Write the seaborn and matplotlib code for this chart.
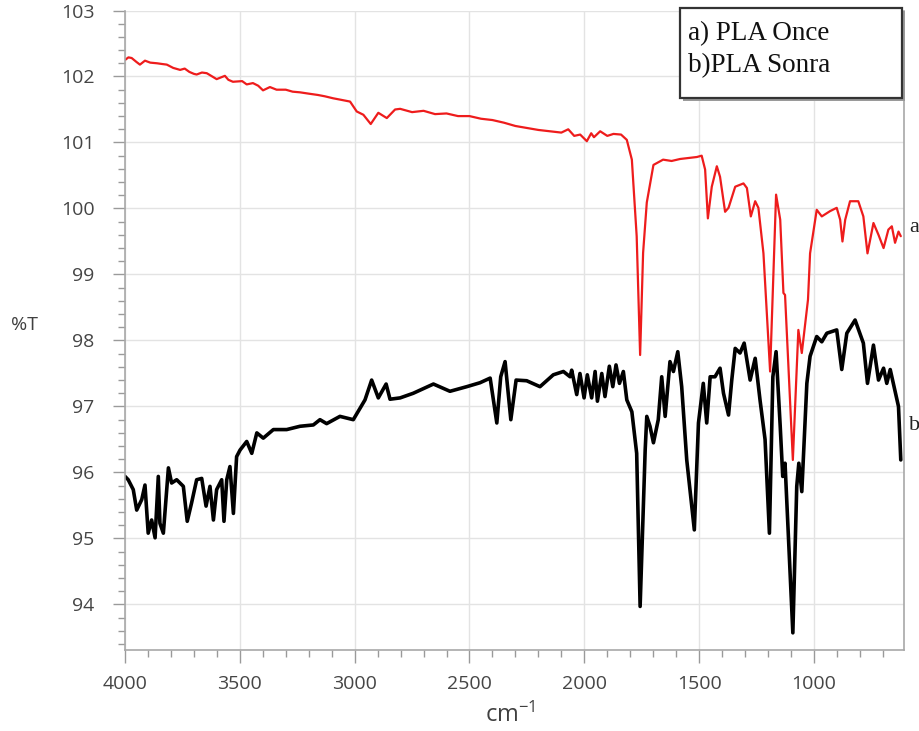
import matplotlib
matplotlib.use("Agg")
import matplotlib.pyplot as plt
from matplotlib.patches import Rectangle
from matplotlib.ticker import MultipleLocator
import pandas as pd
import seaborn as sns

# spectrum a) PLA Once (red)
wn_a = [4000, 3985, 3971, 3950, 3935, 3913, 3890, 3860, 3840, 3818, 3790, 3760, 3740, 3720,
        3700, 3688, 3665, 3644, 3620, 3601, 3565, 3550, 3530, 3490, 3470, 3443, 3420, 3399,
        3369, 3340, 3300, 3270, 3238, 3200, 3160, 3130, 3094, 3064, 3020, 2991, 2962, 2930,
        2897, 2860, 2824, 2802, 2750, 2700, 2650, 2600, 2550, 2500, 2450, 2400, 2350, 2300,
        2250, 2200, 2150, 2100, 2070, 2044, 2018, 1989, 1970, 1958, 1931, 1900, 1873, 1840,
        1815, 1793, 1772, 1757, 1744, 1728, 1699, 1657, 1620, 1583, 1510, 1489, 1474, 1462,
        1445, 1423, 1409, 1387, 1372, 1343, 1307, 1292, 1275, 1256, 1242, 1220, 1191, 1165,
        1147, 1133, 1126, 1092, 1068, 1053, 1026, 1017, 988, 966, 930, 901, 886, 876, 864,
        843, 807, 785, 767, 741, 719, 697, 676, 661, 647, 632, 622]
t_a = [102.25, 102.29, 102.28, 102.22, 102.18, 102.24, 102.21, 102.20, 102.19, 102.18,
       102.13, 102.10, 102.12, 102.07, 102.04, 102.03, 102.06, 102.05, 102.00, 101.96,
       102.01, 101.95, 101.92, 101.93, 101.88, 101.90, 101.86, 101.79, 101.84, 101.80,
       101.80, 101.77, 101.76, 101.74, 101.72, 101.70, 101.67, 101.65, 101.62, 101.47,
       101.42, 101.28, 101.45, 101.37, 101.50, 101.51, 101.46, 101.48, 101.43, 101.44,
       101.40, 101.40, 101.36, 101.34, 101.30, 101.25, 101.22, 101.19, 101.17, 101.15,
       101.20, 101.10, 101.12, 101.02, 101.14, 101.08, 101.17, 101.10, 101.13, 101.12,
       101.04, 100.74, 99.58, 97.78, 99.33, 100.09, 100.66, 100.74, 100.72, 100.75, 100.78,
       100.80, 100.59, 99.85, 100.33, 100.64, 100.48, 99.95, 100.01, 100.33, 100.38, 100.31,
       99.88, 100.11, 100.01, 99.32, 97.53, 100.21, 99.83, 98.72, 98.69, 96.19, 98.16, 97.81,
       98.62, 99.32, 99.98, 99.88, 99.96, 100.01, 99.83, 99.50, 99.83, 100.11, 100.11, 99.88,
       99.32, 99.78, 99.60, 99.40, 99.68, 99.73, 99.48, 99.65, 99.58]

# spectrum b) PLA Sonra (black)
wn_b = [4000, 3986, 3964, 3949, 3927, 3913, 3899, 3884, 3869, 3855, 3848, 3833, 3811, 3797,
        3775, 3746, 3729, 3710, 3688, 3666, 3647, 3630, 3615, 3601, 3579, 3569, 3557, 3543,
        3528, 3514, 3499, 3470, 3448, 3426, 3398, 3354, 3296, 3238, 3180, 3151, 3122, 3064,
        3006, 2955, 2926, 2897, 2863, 2846, 2802, 2745, 2657, 2585, 2512, 2454, 2410, 2381,
        2364, 2345, 2320, 2297, 2251, 2193, 2135, 2091, 2062, 2055, 2033, 2019, 2001, 1987,
        1968, 1953, 1943, 1924, 1910, 1891, 1876, 1862, 1847, 1830, 1815, 1793, 1772, 1757,
        1735, 1728, 1714, 1699, 1678, 1663, 1648, 1627, 1612, 1593, 1576, 1554, 1521, 1503,
        1482, 1467, 1452, 1431, 1409, 1394, 1372, 1358, 1343, 1322, 1304, 1278, 1256, 1235,
        1213, 1194, 1179, 1165, 1147, 1136, 1126, 1092, 1075, 1066, 1053, 1031, 1017, 988, 966,
        944, 901, 879, 857, 821, 785, 767, 741, 719, 697, 683, 668, 647, 632, 622]
t_b = [95.94, 95.89, 95.74, 95.43, 95.59, 95.81, 95.08, 95.28, 95.01, 95.94, 95.23, 95.08,
       96.07, 95.84, 95.89, 95.79, 95.26, 95.54, 95.89, 95.91, 95.49, 95.79, 95.28, 95.74,
       95.89, 95.26, 95.89, 96.09, 95.38, 96.24, 96.34, 96.47, 96.29, 96.60, 96.52, 96.65,
       96.65, 96.70, 96.72, 96.80, 96.74, 96.85, 96.80, 97.10, 97.40, 97.13, 97.34, 97.11,
       97.13, 97.20, 97.34, 97.23, 97.30, 97.36, 97.43, 96.75, 97.45, 97.68, 96.80, 97.40,
       97.39, 97.30, 97.48, 97.53, 97.45, 97.55, 97.18, 97.50, 97.13, 97.48, 97.13, 97.53,
       97.08, 97.50, 97.15, 97.61, 97.30, 97.63, 97.35, 97.53, 97.10, 96.92, 96.29, 93.97,
       96.34, 96.85, 96.70, 96.45, 96.80, 97.45, 96.85, 97.68, 97.53, 97.83, 97.30, 96.19,
       95.13, 96.75, 97.35, 96.75, 97.45, 97.45, 97.58, 97.20, 96.87, 97.40, 97.88, 97.81,
       97.96, 97.40, 97.73, 97.10, 96.50, 95.08, 97.45, 97.83, 96.70, 95.94, 96.14, 93.57,
       95.79, 96.14, 95.71, 97.35, 97.76, 98.06, 97.98, 98.11, 98.16, 97.56, 98.11, 98.31,
       97.96, 97.35, 97.93, 97.40, 97.58, 97.35, 97.56, 97.23, 97.00, 96.19]

legend_lines = ["a) PLA Once", "b)PLA Sonra"]

df_a = pd.DataFrame({"wn": wn_a, "T": t_a})
df_b = pd.DataFrame({"wn": wn_b, "T": t_b})

sns.set_style("white")
plt.rcParams["font.family"] = ["Open Sans", "DejaVu Sans"]
plt.rcParams["mathtext.default"] = "regular"

fig = plt.figure(figsize=(9.2, 7.31), dpi=100)
ax = fig.add_axes([125 / 920, 81 / 731, 779 / 920, 639.5 / 731])

sns.lineplot(data=df_a, x="wn", y="T", ax=ax, color="#ee1c1c", linewidth=1.6,
             estimator=None, sort=False)
sns.lineplot(data=df_b, x="wn", y="T", ax=ax, color="black", linewidth=2.6,
             estimator=None, sort=False)

ax.set_xlim(4000, 608)
ax.set_ylim(93.31, 103.0)
ax.xaxis.set_major_locator(MultipleLocator(500))
ax.xaxis.set_minor_locator(MultipleLocator(100))
ax.yaxis.set_major_locator(MultipleLocator(1))
ax.yaxis.set_minor_locator(MultipleLocator(0.2))
ax.grid(True, which="major", color="#e3e3e3", linewidth=1.0)
ax.set_axisbelow(True)

ax.tick_params(which="major", direction="out", length=9, width=1, color="#9a9a9a",
               labelsize=14, labelcolor="#454545", pad=9)
ax.tick_params(which="minor", direction="out", length=5, width=1, color="#9a9a9a")
ax.tick_params(axis="y", which="major", pad=13)
ax.tick_params(bottom=True, left=True, which="both")

for side in ["left", "bottom", "right"]:
    ax.spines[side].set_color("#a8a8a8")
    ax.spines[side].set_linewidth(1.2)
ax.spines["top"].set_visible(False)

ax.set_xlabel("")
ax.set_ylabel("")
fig.text(510 / 920, 1 - 715 / 731, "cm$^{-1}$", ha="center", va="center",
         fontsize=17, color="#404040")
fig.text(25 / 920, 1 - 325 / 731, "%T", ha="center", va="center",
         fontsize=14, color="#404040")

# curve tags
fig.text(909 / 920, 1 - 228 / 731, "a", ha="left", va="center", fontsize=16,
         family="Liberation Serif", color="#222222")
fig.text(909 / 920, 1 - 426 / 731, "b", ha="left", va="center", fontsize=16,
         family="Liberation Serif", color="#222222")

# legend box
fig.add_artist(Rectangle((683 / 920, 1 - 101 / 731), 222 / 920, 90 / 731,
                         transform=fig.transFigure, facecolor="#9a9a9a",
                         edgecolor="none", zorder=5))
fig.add_artist(Rectangle((680 / 920, 1 - 98 / 731), 222 / 920, 90 / 731,
                         transform=fig.transFigure, facecolor="white",
                         edgecolor="#333333", linewidth=1.6, zorder=6))
fig.text(688 / 920, 1 - 34 / 731, legend_lines[0], ha="left", va="center", fontsize=19.5,
         family="Liberation Serif", color="#111111", zorder=7)
fig.text(688 / 920, 1 - 66 / 731, legend_lines[1], ha="left", va="center", fontsize=19.5,
         family="Liberation Serif", color="#111111", zorder=7)

fig.savefig("out.png", dpi=100)
